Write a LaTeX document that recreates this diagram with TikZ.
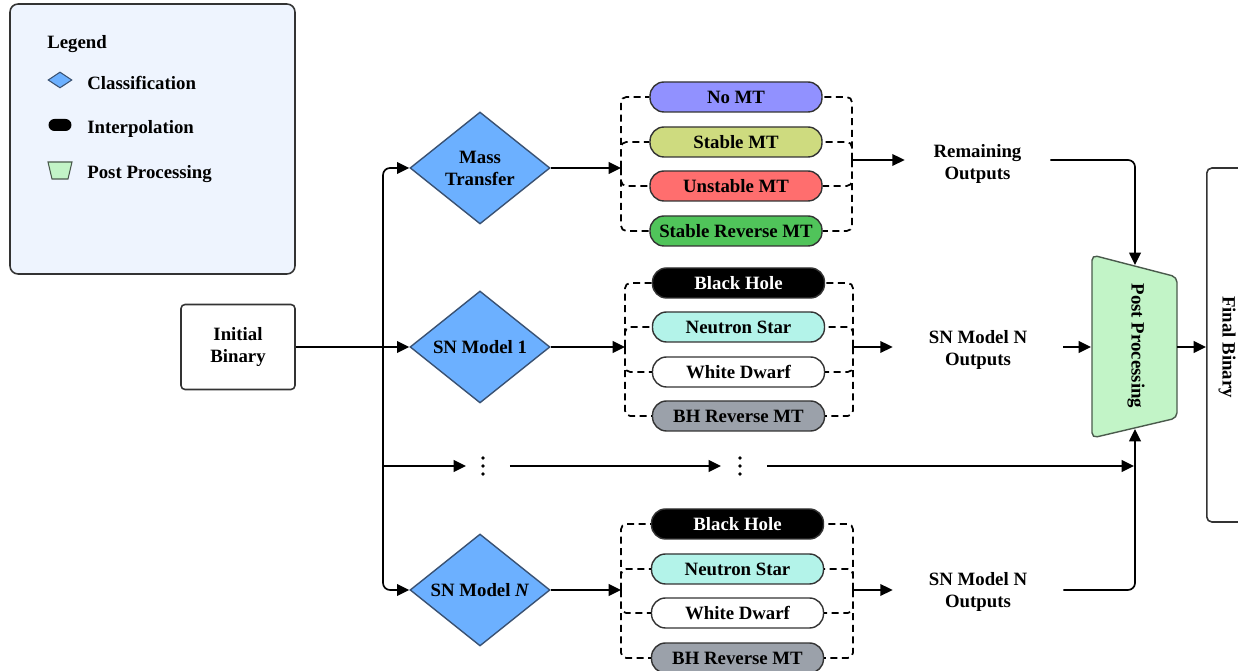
\documentclass[tikz,border=0pt]{standalone}
\usepackage{fontspec}
\setmainfont{Liberation Serif}
\usetikzlibrary{shapes.geometric,arrows.meta}
\definecolor{legendfill}{HTML}{EEF4FE}
\definecolor{diafill}{HTML}{6CB0FF}
\definecolor{diaborder}{HTML}{3A5273}
\definecolor{pillborder}{HTML}{333333}
\definecolor{nomtc}{HTML}{9191FF}
\definecolor{smtc}{HTML}{CEDB7F}
\definecolor{umtc}{HTML}{FF6E6E}
\definecolor{srmtc}{HTML}{50C45A}
\definecolor{nsc}{HTML}{B3F3E9}
\definecolor{bhrc}{HTML}{9BA1AA}
\definecolor{ppfill}{HTML}{C2F4C7}
\definecolor{ppborder}{HTML}{4A5A4C}
\begin{document}
\begin{tikzpicture}[x=0.02cm,y=-0.02cm,
  every node/.style={font=\fontsize{10.7}{13}\selectfont\bfseries},
  conn/.style={line width=0.95pt, draw=black},
  arr/.style={conn,-{Triangle[length=7pt,width=6.6pt]}},
  dsh/.style={line width=1pt, dash pattern=on 4pt off 2.6pt, rounded corners=3pt},
  pill/.style={draw=pillborder, line width=0.8pt, rounded corners=0.28cm, minimum width=3.44cm, minimum height=0.6cm, inner sep=0pt},
  dia/.style={diamond, draw=diaborder, fill=diafill, line width=0.8pt, minimum width=2.8cm, minimum height=2.24cm, inner sep=0pt, shape aspect=1.25, align=center},
  outtext/.style={align=center, minimum height=0.9cm, inner sep=0pt},
  ]
\useasboundingbox (0,0) rectangle (1238,671);
\clip (0,0) rectangle (1238,671);

% Legend
\node[draw=pillborder, fill=legendfill, rounded corners=0.16cm, line width=0.9pt, minimum width=5.7cm, minimum height=5.4cm] (legend) at (152.5,139) {};
\node[anchor=west, inner sep=0pt] (lt) at (47,44) {Legend};
\node[diamond, draw=diaborder, fill=diafill, line width=0.6pt, minimum width=0.48cm, minimum height=0.32cm, inner sep=0pt, shape aspect=1.5] (li1) at (60,80) {};
\node[anchor=west, inner sep=0pt] (lc) at (87,83) {Classification};
\node[fill=black, rounded corners=0.12cm, minimum width=0.46cm, minimum height=0.24cm, inner sep=0pt] (li2) at (60,125) {};
\node[anchor=west, inner sep=0pt] (li) at (87,129) {Interpolation};
\draw[fill=ppfill, draw=ppborder, line width=0.6pt] (48,162) -- (72,162) -- (68,179) -- (52,179) -- cycle;
\node[anchor=west, inner sep=0pt] (lp) at (87,174) {Post Processing};

% Initial binary
\node[draw=pillborder, rounded corners=0.08cm, line width=0.9pt, minimum width=2.28cm, minimum height=1.7cm, align=center] (ib) at (238,347) {Initial\\Binary};

% Diamonds
\node[dia] (mt) at (480,168) {Mass\\[-0.5pt]Transfer};
\node[dia] (sn1) at (480,347) {SN Model 1};
\node[dia] (snN) at (480,590) {SN Model \textit{N}};

% Trunk
\coordinate (tr) at (383,347);
\coordinate (tr3) at (383,466);
\draw[conn] (ib.east) -- (tr);
\draw[arr] (tr) -- (sn1.west);
\draw[arr, rounded corners=4pt] (tr) |- (mt.west);
\draw[arr, rounded corners=4pt] (tr) |- (snN.west);

% Group 1
\node[pill, fill=nomtc] (nomt) at (736,97) {No MT};
\node[pill, fill=smtc] (smt) at (736,142) {Stable MT};
\node[pill, fill=umtc] (umt) at (736,186) {Unstable MT};
\node[pill, fill=srmtc] (srmt) at (736,231) {Stable Reverse MT};
\coordinate (g1l) at (621,168);
\coordinate (g1r) at (852,160);
\foreach \p in {nomt,smt,umt,srmt}{
  \draw[dsh] (g1l) |- (\p.west);
  \draw[dsh] (g1r) |- (\p.east);
}
\draw[arr] (mt.east) -- (g1l);

% Group 2
\node[pill, fill=black, text=white] (bh1) at (738.5,283) {Black Hole};
\node[pill, fill=nsc] (ns1) at (738.5,327) {Neutron Star};
\node[pill, fill=white] (wd1) at (738.5,372) {White Dwarf};
\node[pill, fill=bhrc] (bhr1) at (738.5,416) {BH Reverse MT};
\coordinate (g2l) at (625,347);
\coordinate (g2r) at (853,347);
\foreach \p in {bh1,ns1,wd1,bhr1}{
  \draw[dsh] (g2l) |- (\p.west);
  \draw[dsh] (g2r) |- (\p.east);
}
\draw[arr] (sn1.east) -- (g2l);

% Group 3
\node[pill, fill=black, text=white] (bh2) at (737.5,524) {Black Hole};
\node[pill, fill=nsc] (ns2) at (737.5,569) {Neutron Star};
\node[pill, fill=white] (wd2) at (737.5,613) {White Dwarf};
\node[pill, fill=bhrc] (bhr2) at (737.5,658) {BH Reverse MT};
\coordinate (g3l) at (621,590);
\coordinate (g3r) at (853,590);
\foreach \p in {bh2,ns2,wd2,bhr2}{
  \draw[dsh] (g3l) |- (\p.west);
  \draw[dsh] (g3r) |- (\p.east);
}
\draw[arr] (snN.east) -- (g3l);

% Outputs
\node[outtext, minimum width=2.9cm] (ro) at (977.5,164) {Remaining\\Outputs};
\node[outtext, minimum width=3.4cm] (o1) at (978,350) {SN Model N\\Outputs};
\node[outtext, minimum width=3.4cm] (o2) at (978,592) {SN Model N\\Outputs};
\draw[arr] (g1r) -- (g1r -| ro.west);
\draw[arr] (g2r) -- (g2r -| o1.west);
\draw[arr] (g3r) -- (g3r -| o2.west);

% Post processing
\draw[fill=ppfill, draw=ppborder, line width=0.8pt, rounded corners=3pt] (1092,255) -- (1177,277) -- (1177,418) -- (1092,438) -- cycle;
\node[rotate=-90] (pp) at (1136,346) {Post Processing};
\coordinate (pptop) at (1135,265);
\coordinate (ppbot) at (1135,429);
\coordinate (ppl) at (1091,347);
\coordinate (ppr) at (1177,347);
\draw[arr, rounded corners=4pt] (ro.east |- g1r) -| (pptop);
\draw[arr] (o1.east |- g2r) -- (ppl);
\draw[arr, rounded corners=4pt] (o2.east |- g3r) -| (ppbot);

% Dots row
\coordinate (d1) at (483,466);
\coordinate (d2) at (740,466);
\coordinate (jn) at (1134,466);
\foreach \dy in {-8,0,8}{
  \fill ([yshift=-\dy*0.02cm]d1) circle (1.1pt);
  \fill ([yshift=-\dy*0.02cm]d2) circle (1.1pt);
}
\draw[arr] (tr3) -- ([xshift=-0.34cm]d1);
\draw[arr] ([xshift=0.54cm]d1) -- ([xshift=-0.38cm]d2);
\draw[arr] ([xshift=0.54cm]d2) -- (jn);

% Final binary
\node[draw=pillborder, rounded corners=0.1cm, line width=0.9pt, minimum width=1.2cm, minimum height=7.08cm, anchor=west, inner sep=0pt] (fb) at (1206,345) {};
\node[rotate=-90] (fbt) at (1227,347) {Final Binary};
\draw[arr] (ppr) -- (fb.west |- ppr);
\end{tikzpicture}
\end{document}
